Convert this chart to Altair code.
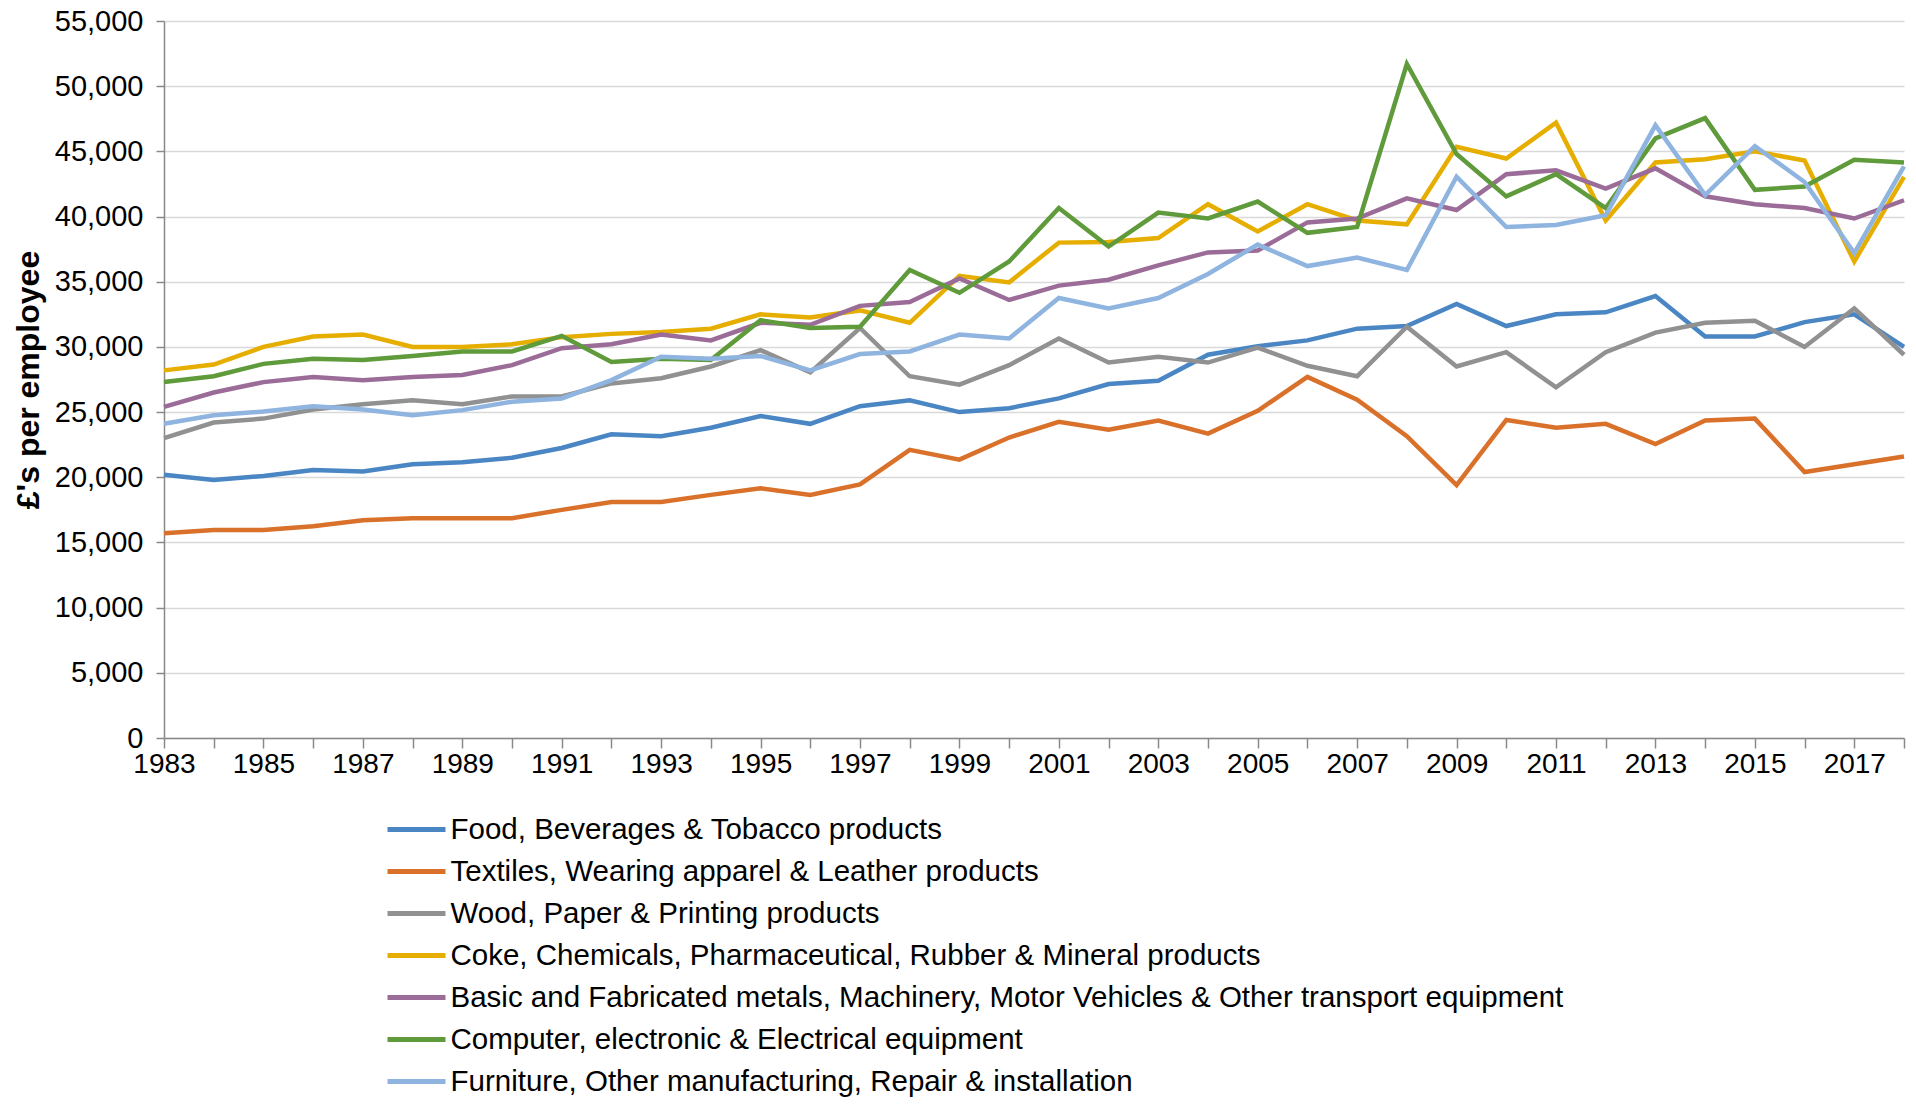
import altair as alt
import pandas as pd

years = list(range(1983, 2019))

series_names = [
    "Food, Beverages & Tobacco products",
    "Textiles, Wearing apparel & Leather products",
    "Wood, Paper & Printing products",
    "Coke, Chemicals, Pharmaceutical, Rubber & Mineral products",
    "Basic and Fabricated metals, Machinery, Motor Vehicles & Other transport equipment",
    "Computer, electronic & Electrical equipment",
    "Furniture, Other manufacturing, Repair & installation",
]

food = [20200, 19800, 20100, 20550, 20450, 21000, 21150, 21500, 22250, 23300, 23150,
        23800, 24700, 24100, 25450, 25900, 25000, 25300, 26050, 27150, 27400,
        29400, 30050, 30500, 31400,
        31600, 33300, 31600, 32500, 32650, 33900, 30800, 30800, 31900, 32500, 30000]
textiles = [15700, 15950, 15950, 16250, 16700, 16850, 16850, 16850, 17500, 18100, 18100,
            18650, 19150, 18650, 19450, 22100, 21350, 23050, 24250, 23650, 24350, 23350, 25100,
            27700,
            25950, 23150, 19400, 24400, 23800, 24100, 22550, 24350, 24500, 20400, 21000, 21600]
wood = [23000, 24200, 24500, 25200, 25600, 25900, 25600, 26200, 26200, 27200, 27600,
        28500, 29750, 28050, 31450, 27750, 27100, 28600, 30650, 28800, 29250, 28800, 29950, 28550,
        27750, 31550, 28500, 29600, 26900, 29600, 31100, 31850, 32000, 30000, 32950, 29400]
coke = [28200, 28650, 30000, 30800, 30950, 30000, 30000, 30200, 30750, 31000, 31150,
        31400, 32500, 32250, 32800, 31850, 35450, 34950, 38000, 38050, 38350, 40950, 38850, 40950,
        39700, 39400, 45350, 44450, 47200, 39700, 44150, 44400, 45000, 44300, 36550, 43050]
metals = [25400, 26500, 27300, 27700, 27450, 27700, 27850, 28600, 29900, 30200, 30950,
          30500, 31850, 31700, 33150, 33450, 35250, 33600, 34700, 35150, 36250, 37250, 37400, 39550,
          39850, 41400, 40500, 43250, 43550, 42150, 43700, 41550, 40950, 40650, 39850, 41250]
computer = [27300, 27750, 28700, 29100, 29000, 29300, 29650, 29650, 30850, 28850, 29100,
            29000, 32050, 31450, 31550, 35900, 34150, 36550, 40650, 37700, 40300, 39850, 41150, 38750,
            39200, 51700, 44800, 41550, 43250, 40650, 46000, 47550, 42050, 42300, 44350, 44150]
furniture = [24100, 24750, 25050, 25450, 25200, 24750, 25150, 25800, 26050, 27450, 29250,
             29100, 29300, 28200, 29450, 29650, 30950, 30650, 33750, 32950, 33750, 35600, 37850, 36200,
             36850, 35900, 43050, 39200, 39350, 40100, 47000, 41650, 45400, 42650, 37200, 43850]

colors = ["#4A86C3", "#D9712B", "#919191", "#E6AE00", "#9B6C98", "#5F9A3B", "#8EB4DF"]

y_ticks = list(range(0, 55001, 5000))

all_series = [food, textiles, wood, coke, metals, computer, furniture]
rows = []
for name, vals in zip(series_names, all_series):
    for yr, v in zip(years, vals):
        rows.append({"year": yr, "value": v, "series": name})
df = pd.DataFrame(rows)

FONT = "Liberation Sans"

chart = alt.Chart(df).mark_line(strokeWidth=4.5).encode(
    x=alt.X("year:Q",
            scale=alt.Scale(domain=[1983, 2018], nice=False, zero=False),
            axis=alt.Axis(values=years, format="d", grid=False, title=None,
                          labelExpr="(datum.value - 1983) % 2 == 0 ? datum.label : ''",
                          tickSize=10, labelPadding=2, labelFontSize=28,
                          labelFlush=False, labelOverlap=False)),
    y=alt.Y("value:Q",
            scale=alt.Scale(domain=[0, 55000], nice=False),
            axis=alt.Axis(values=y_ticks, format=",d", title="£'s per employee",
                          tickSize=8, labelPadding=13, labelFontSize=29,
                          titleFontSize=32, titleFontWeight="bold", titlePadding=9)),
    color=alt.Color("series:N",
                    scale=alt.Scale(domain=series_names, range=colors),
                    sort=series_names,
                    legend=alt.Legend(orient="none", legendX=230, legendY=786, title=None,
                                      symbolType="M-1.45,0H1.45", symbolSize=1600,
                                      symbolStrokeWidth=5, labelFontSize=29.5, labelFont=FONT,
                                      labelColor="black", labelOffset=11.5, labelLimit=1500,
                                      rowPadding=5, direction="vertical")),
).properties(
    width=1740,
    height=717,
    autosize=alt.AutoSizeParams(type="none"),
    padding={"left": 156, "top": 13, "right": 4, "bottom": 365},
).configure_view(
    stroke=None
).configure_axis(
    labelFont=FONT, titleFont=FONT, labelColor="black", titleColor="black",
    domainColor="#898989", tickColor="#898989", domainWidth=1.5, tickWidth=1.5,
    gridColor="#D9D9D9", gridWidth=1.5
)

chart.save("out.html", embed_options={"renderer": "svg", "actions": False})
